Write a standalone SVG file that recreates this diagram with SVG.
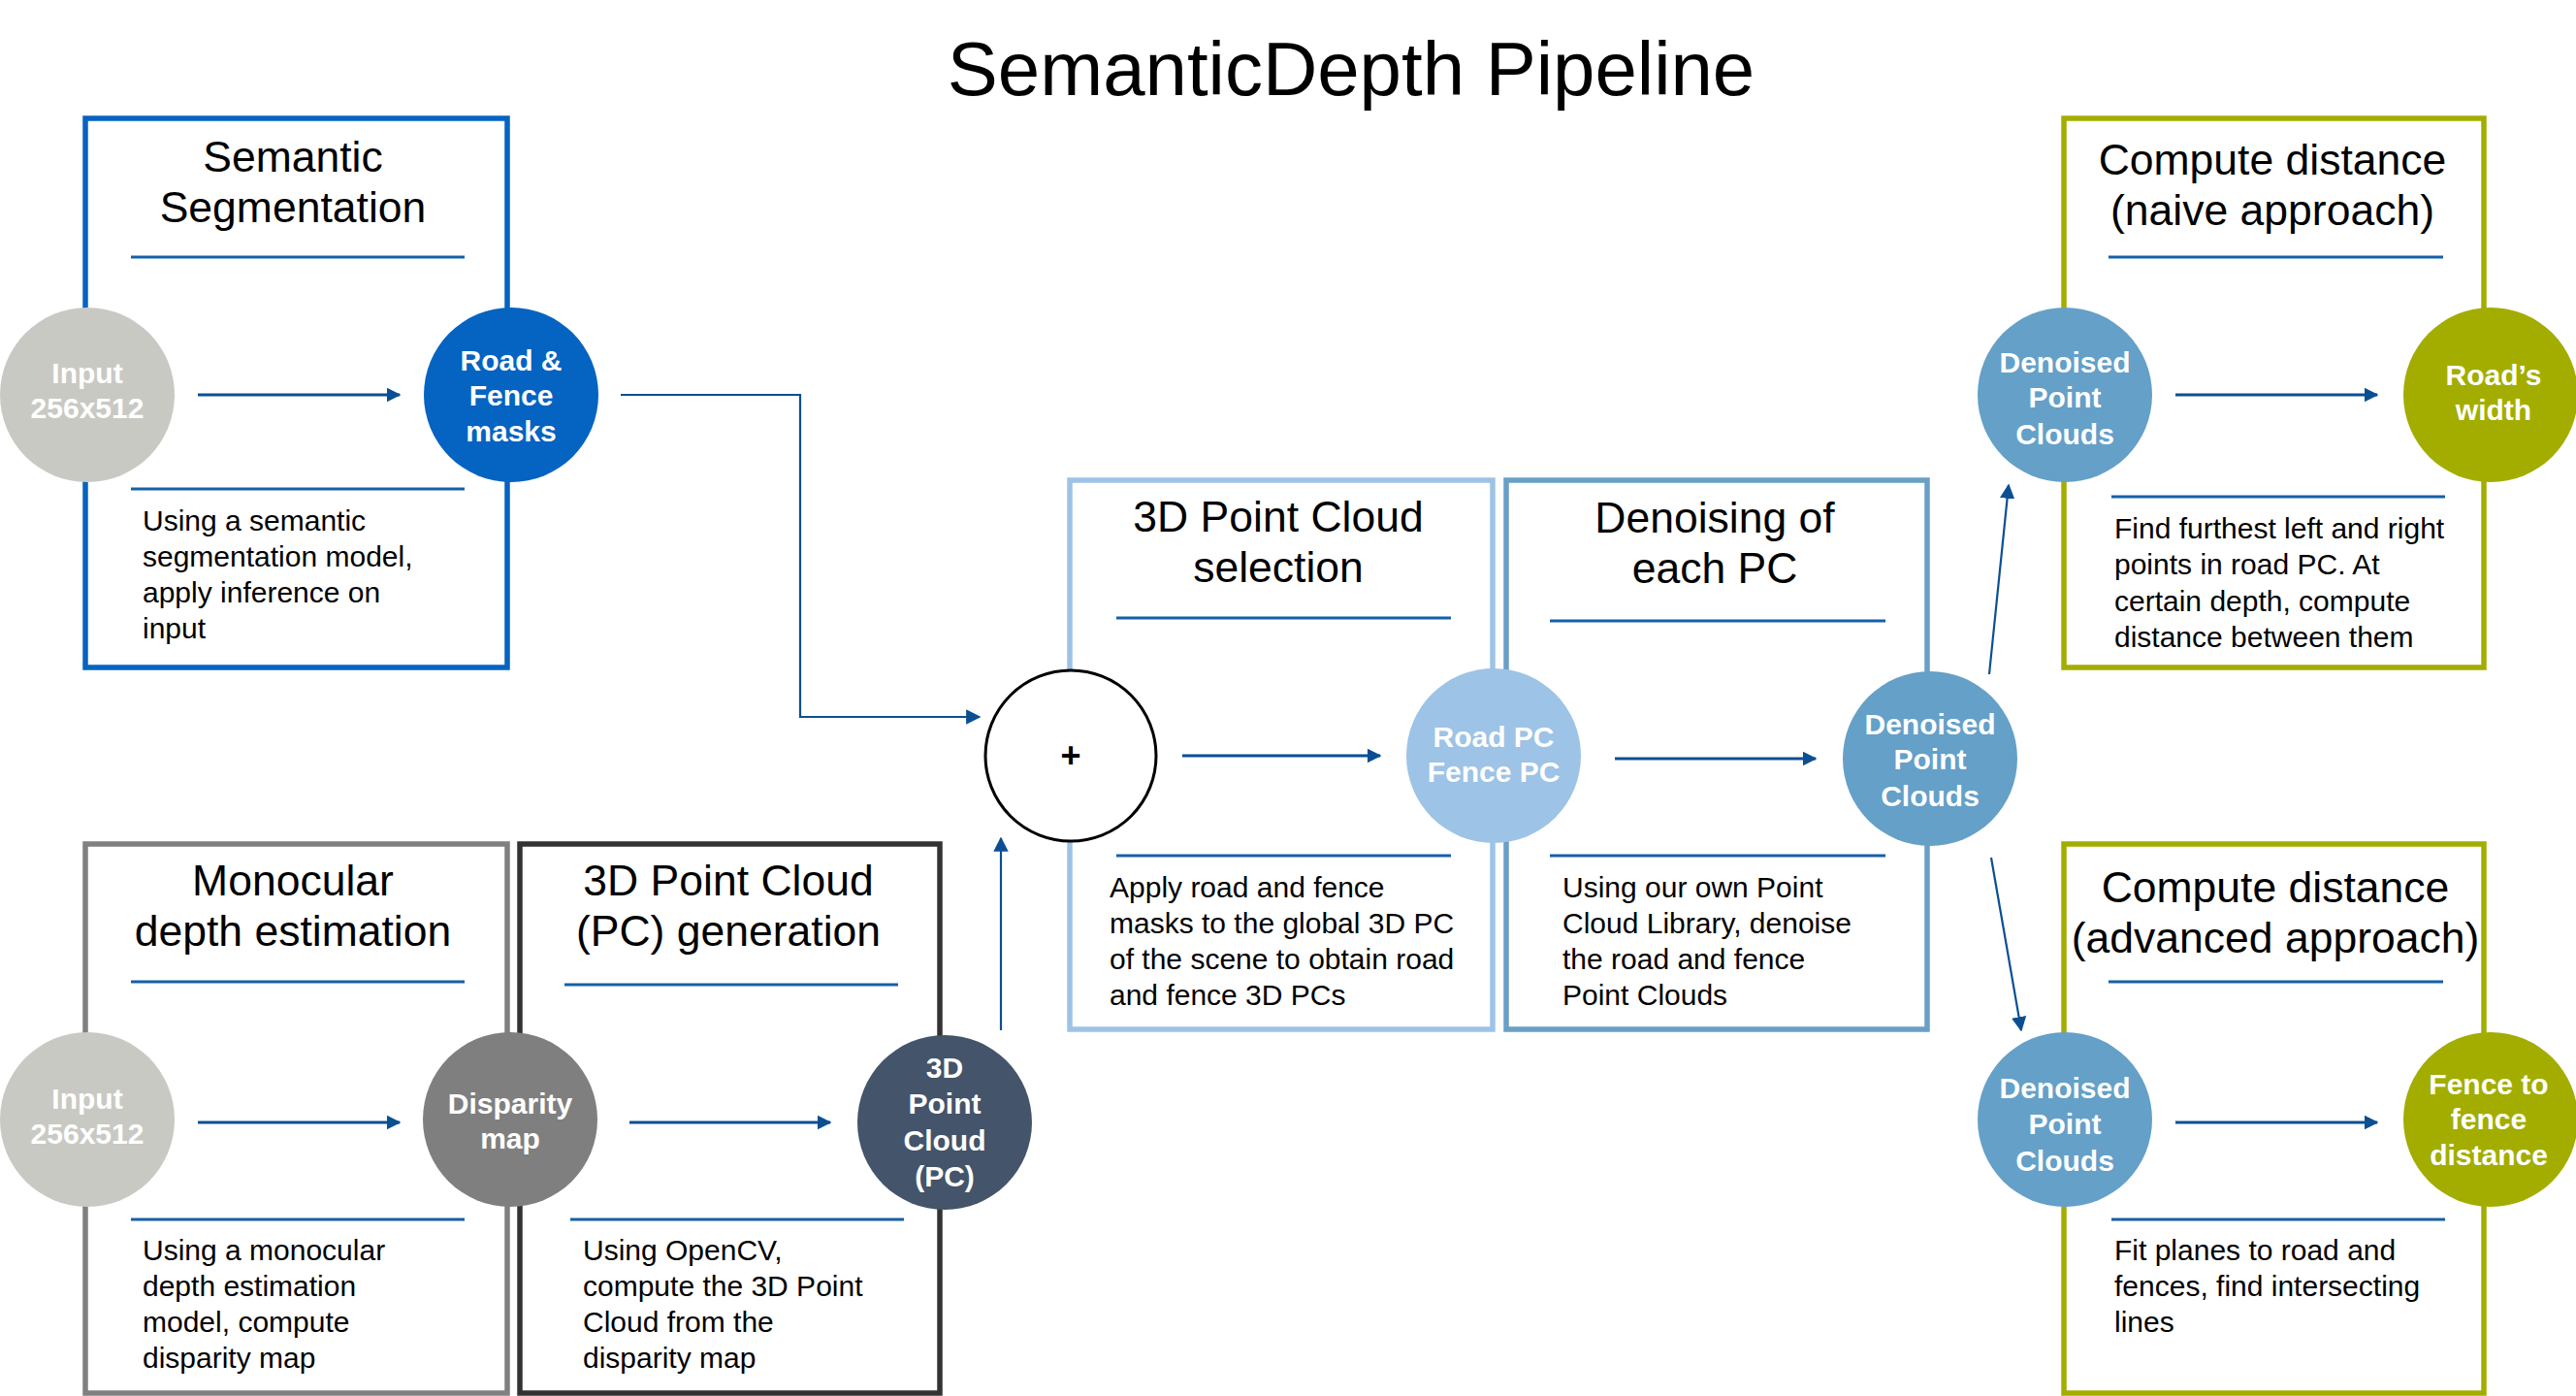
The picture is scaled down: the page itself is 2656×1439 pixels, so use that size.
<svg xmlns="http://www.w3.org/2000/svg" width="2656" height="1439" viewBox="0 0 2656 1439">
<defs>
<marker id="ah" viewBox="0 0 10 10" refX="9" refY="5" markerWidth="5" markerHeight="5" markerUnits="strokeWidth" orient="auto">
<path d="M0,0 L10,5 L0,10 z" fill="#0B4F93"/>
</marker>
<marker id="ah2" viewBox="0 0 10 10" refX="9" refY="5" markerWidth="7" markerHeight="7" markerUnits="strokeWidth" orient="auto">
<path d="M0,0 L10,5 L0,10 z" fill="#0B4F93"/>
</marker>
</defs>
<style>
text{font-family:"Liberation Sans",Arial,Helvetica,sans-serif;}
.box{fill:#fff;stroke-width:5.5;}
.sep{stroke:#1560A8;stroke-width:3;}
.ttl{font-size:44.5px;fill:#000;text-anchor:middle;}
.desc{font-size:30px;fill:#000;}
.ct{font-size:30px;font-weight:bold;fill:#fff;text-anchor:middle;}
.ar{stroke:#0B4F93;stroke-width:3;fill:none;marker-end:url(#ah);}
.ar2{stroke:#0B4F93;stroke-width:2.2;fill:none;marker-end:url(#ah2);}
</style>
<rect width="2656" height="1439" fill="#fff"/>
<text x="1393" y="98" font-size="78" text-anchor="middle" fill="#000">SemanticDepth Pipeline</text>

<g id="box-semantic">
<rect class="box" x="88" y="122" width="435" height="566" stroke="#0563C1"/>
<text class="ttl" x="302" y="177">Semantic</text>
<text class="ttl" x="302" y="229">Segmentation</text>
<line class="sep" x1="135" y1="265" x2="479" y2="265"/>
<line class="sep" x1="135" y1="504" x2="479" y2="504"/>
<text class="desc" x="147" y="547">Using a semantic</text>
<text class="desc" x="147" y="584">segmentation model,</text>
<text class="desc" x="147" y="621">apply inference on</text>
<text class="desc" x="147" y="658">input</text>
</g>

<g id="box-monocular">
<rect class="box" x="88" y="870" width="435" height="566" stroke="#808080"/>
<text class="ttl" x="302" y="923">Monocular</text>
<text class="ttl" x="302" y="975">depth estimation</text>
<line class="sep" x1="135" y1="1012" x2="479" y2="1012"/>
<line class="sep" x1="135" y1="1257" x2="479" y2="1257"/>
<text class="desc" x="147" y="1299">Using a monocular</text>
<text class="desc" x="147" y="1336">depth estimation</text>
<text class="desc" x="147" y="1373">model, compute</text>
<text class="desc" x="147" y="1410">disparity map</text>
</g>

<g id="box-pcgen">
<rect class="box" x="536" y="870" width="433" height="566" stroke="#333333"/>
<text class="ttl" x="751" y="923">3D Point Cloud</text>
<text class="ttl" x="751" y="975">(PC) generation</text>
<line class="sep" x1="582" y1="1015" x2="926" y2="1015"/>
<line class="sep" x1="588" y1="1257" x2="932" y2="1257"/>
<text class="desc" x="601" y="1299">Using OpenCV,</text>
<text class="desc" x="601" y="1336">compute the 3D Point</text>
<text class="desc" x="601" y="1373">Cloud from the</text>
<text class="desc" x="601" y="1410">disparity map</text>
</g>

<g id="box-selection">
<rect class="box" x="1103" y="495" width="436" height="566" stroke="#9DC3E6"/>
<text class="ttl" x="1318" y="548">3D Point Cloud</text>
<text class="ttl" x="1318" y="600">selection</text>
<line class="sep" x1="1151" y1="637" x2="1496" y2="637"/>
<line class="sep" x1="1151" y1="882" x2="1496" y2="882"/>
<text class="desc" x="1144" y="925">Apply road and fence</text>
<text class="desc" x="1144" y="962">masks to the global 3D PC</text>
<text class="desc" x="1144" y="999">of the scene to obtain road</text>
<text class="desc" x="1144" y="1036">and fence 3D PCs</text>
</g>

<g id="box-denoising">
<rect class="box" x="1553" y="495" width="434" height="566" stroke="#6A9FC6"/>
<text class="ttl" x="1768" y="549">Denoising of</text>
<text class="ttl" x="1768" y="601">each PC</text>
<line class="sep" x1="1598" y1="640" x2="1944" y2="640"/>
<line class="sep" x1="1598" y1="882" x2="1944" y2="882"/>
<text class="desc" x="1611" y="925">Using our own Point</text>
<text class="desc" x="1611" y="962">Cloud Library, denoise</text>
<text class="desc" x="1611" y="999">the road and fence</text>
<text class="desc" x="1611" y="1036">Point Clouds</text>
</g>

<g id="box-naive">
<rect class="box" x="2128" y="122" width="433" height="566" stroke="#A3AD00"/>
<text class="ttl" x="2343" y="180">Compute distance</text>
<text class="ttl" x="2343" y="232">(naive approach)</text>
<line class="sep" x1="2174" y1="265" x2="2519" y2="265"/>
<line class="sep" x1="2177" y1="512" x2="2521" y2="512"/>
<text class="desc" x="2180" y="555">Find furthest left and right</text>
<text class="desc" x="2180" y="592">points in road PC. At</text>
<text class="desc" x="2180" y="630">certain depth, compute</text>
<text class="desc" x="2180" y="667">distance between them</text>
</g>

<g id="box-advanced">
<rect class="box" x="2128" y="870" width="433" height="566" stroke="#A3AD00"/>
<text class="ttl" x="2346" y="930">Compute distance</text>
<text class="ttl" x="2346" y="982">(advanced approach)</text>
<line class="sep" x1="2174" y1="1012" x2="2519" y2="1012"/>
<line class="sep" x1="2177" y1="1257" x2="2521" y2="1257"/>
<text class="desc" x="2180" y="1299">Fit planes to road and</text>
<text class="desc" x="2180" y="1336">fences, find intersecting</text>
<text class="desc" x="2180" y="1373">lines</text>
</g>

<g id="node-input1">
<circle cx="90" cy="407" r="90" fill="#C9C9C4"/>
<text class="ct" x="90" y="395" fill="#F4F4F4">Input</text>
<text class="ct" x="90" y="431" fill="#F4F4F4">256x512</text>
</g>
<g id="node-masks">
<circle cx="527" cy="407" r="90" fill="#0563C1"/>
<text class="ct" x="527" y="382">Road &amp;</text>
<text class="ct" x="527" y="418">Fence</text>
<text class="ct" x="527" y="455">masks</text>
</g>
<g id="node-input2">
<circle cx="90" cy="1154" r="90" fill="#C9C9C4"/>
<text class="ct" x="90" y="1143" fill="#F4F4F4">Input</text>
<text class="ct" x="90" y="1179" fill="#F4F4F4">256x512</text>
</g>
<g id="node-disparity">
<circle cx="526" cy="1154" r="90" fill="#7F7F7F"/>
<text class="ct" x="526" y="1148">Disparity</text>
<text class="ct" x="526" y="1184">map</text>
</g>
<g id="node-pc">
<circle cx="974" cy="1157" r="90" fill="#44546A"/>
<text class="ct" x="974" y="1111">3D</text>
<text class="ct" x="974" y="1148">Point</text>
<text class="ct" x="974" y="1186">Cloud</text>
<text class="ct" x="974" y="1223">(PC)</text>
</g>
<g id="node-plus">
<circle cx="1104" cy="779" r="88" fill="#fff" stroke="#000" stroke-width="3"/>
<text x="1104" y="791" font-size="36" font-weight="bold" text-anchor="middle" fill="#000">+</text>
</g>
<g id="node-roadpc">
<circle cx="1540" cy="779" r="90" fill="#9DC3E6"/>
<text class="ct" x="1540" y="770">Road PC</text>
<text class="ct" x="1540" y="806">Fence PC</text>
</g>
<g id="node-denoised">
<circle cx="1990" cy="782" r="90" fill="#64A0C8"/>
<text class="ct" x="1990" y="757">Denoised</text>
<text class="ct" x="1990" y="793">Point</text>
<text class="ct" x="1990" y="831">Clouds</text>
</g>
<g id="node-denoised-naive">
<circle cx="2129" cy="407" r="90" fill="#64A0C8"/>
<text class="ct" x="2129" y="384">Denoised</text>
<text class="ct" x="2129" y="420">Point</text>
<text class="ct" x="2129" y="458">Clouds</text>
</g>
<g id="node-roadwidth">
<circle cx="2568" cy="407" r="90" fill="#A3AD00"/>
<text class="ct" x="2571" y="397">Road’s</text>
<text class="ct" x="2571" y="433">width</text>
</g>
<g id="node-denoised-adv">
<circle cx="2129" cy="1154" r="90" fill="#64A0C8"/>
<text class="ct" x="2129" y="1132">Denoised</text>
<text class="ct" x="2129" y="1169">Point</text>
<text class="ct" x="2129" y="1207">Clouds</text>
</g>
<g id="node-fencedist">
<circle cx="2568" cy="1154" r="90" fill="#A3AD00"/>
<text class="ct" x="2566" y="1128">Fence to</text>
<text class="ct" x="2566" y="1164">fence</text>
<text class="ct" x="2566" y="1201">distance</text>
</g>

<g id="connectors">
<line class="ar" x1="204" y1="407" x2="412" y2="407"/>
<line class="ar" x1="204" y1="1157" x2="412" y2="1157"/>
<line class="ar" x1="649" y1="1157" x2="856" y2="1157"/>
<line class="ar" x1="1219" y1="779" x2="1423" y2="779"/>
<line class="ar" x1="1665" y1="782" x2="1872" y2="782"/>
<line class="ar" x1="2243" y1="407" x2="2451" y2="407"/>
<line class="ar" x1="2243" y1="1157" x2="2451" y2="1157"/>
<polyline class="ar2" points="640,407 825,407 825,739 1010,739"/>
<line class="ar2" x1="1032" y1="1062" x2="1032" y2="864"/>
<line class="ar2" x1="2051" y1="695" x2="2071" y2="500"/>
<line class="ar2" x1="2053" y1="884" x2="2084" y2="1062"/>
</g>
</svg>
